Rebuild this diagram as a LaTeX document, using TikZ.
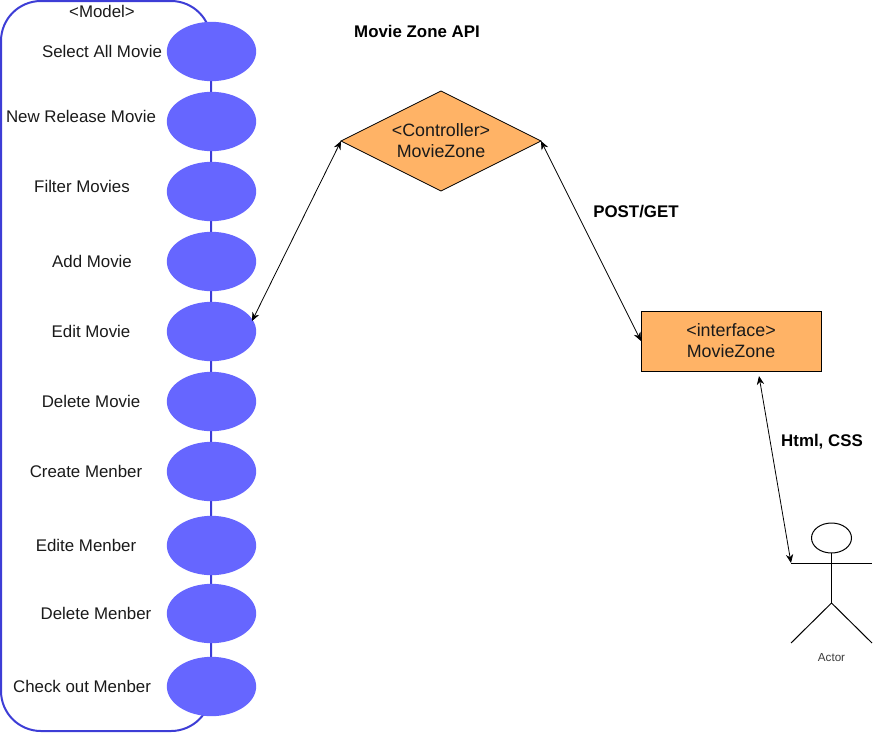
\documentclass[tikz,border=0pt]{standalone}
\usepackage{fontspec}
\setmainfont{Liberation Sans}
\usetikzlibrary{shapes.geometric,arrows.meta}
\definecolor{modelline}{HTML}{3D3DD6}
\definecolor{modelfill}{HTML}{6666FF}
\definecolor{boxfill}{HTML}{FFB366}
\definecolor{inktext}{HTML}{1A1A1A}
\tikzset{
  every node/.style={font=\fontsize{12.65}{15.8}\selectfont,text=inktext,inner sep=0pt,outer sep=0pt},
  modelbox/.style={draw=modelline,line width=1.5pt,rounded corners=30pt},
  opdot/.style={ellipse,fill=modelfill,minimum width=67pt,minimum height=44.5pt},
  oplabel/.style={anchor=center},
  ctrl/.style={diamond,draw=black,line width=0.6pt,fill=boxfill,aspect=2,minimum width=150pt,minimum height=75pt,align=center,font=\fontsize{13.4}{15.8}\selectfont},
  iface/.style={rectangle,draw=black,line width=0.75pt,fill=boxfill,minimum width=135pt,minimum height=45pt,align=center,font=\fontsize{13.4}{15.8}\selectfont},
  boldlabel/.style={font=\fontsize{12.65}{15.8}\selectfont\bfseries,text=black},
  link/.style={draw=black,line width=0.6pt,{Stealth[length=6.5pt,width=5.5pt]}-{Stealth[length=6.5pt,width=5.5pt]}},
  stick/.style={draw=black,line width=0.75pt}
}
\begin{document}
\begin{tikzpicture}[x=0.75pt,y=-0.75pt]
\useasboundingbox (0,0) rectangle (887,732);
\draw[modelbox] (1,1) rectangle (211,731);
\foreach \n/\y in {selectall/51.5,newrelease/121.5,filter/191.5,add/261.5,edit/331.5,delete/401.5,create/471.5,editm/545.5,deletem/613.5,checkout/686.5}
  \node[opdot] (\n) at (211.5,\y) {};
\node[oplabel] (modeltitle) at (102,11) {<Model>};
\node[oplabel] (l1) at (102,51) {Select All Movie};
\node[oplabel] (l2) at (81,116) {New Release Movie};
\node[oplabel] (l3) at (82,186) {Filter Movies};
\node[oplabel] (l4) at (92,261) {Add Movie};
\node[oplabel] (l5) at (91,331) {Edit Movie};
\node[oplabel] (l6) at (91,401) {Delete Movie};
\node[oplabel] (l7) at (86,471) {Create Menber};
\node[oplabel] (l8) at (86,545) {Edite Menber};
\node[oplabel] (l9) at (96,613) {Delete Menber};
\node[oplabel] (l10) at (82,686) {Check out Menber};
\node[boldlabel] (apititle) at (417,31) {Movie Zone API};
\node[ctrl] (controller) at (441,141) {<Controller>\\MovieZone};
\node[iface] (interface) at (731,341) {<interface>\\MovieZone};
\node[boldlabel] (postget) at (636,212) {POST/GET};
\node[boldlabel] (htmlcss) at (822,442) {Html, CSS};
% actor
\node[ellipse,draw=black,line width=0.75pt,minimum width=30pt,minimum height=22.5pt] (head) at (831.5,538) {};
\coordinate (armL) at (791,563);
\coordinate (armR) at (872,563);
\coordinate (hip) at (831.5,603);
\coordinate (footL) at (791,643);
\coordinate (footR) at (872,643);
\draw[stick] (head.south) -- (hip);
\draw[stick] (armL) -- (armR);
\draw[stick] (footL) -- (hip) -- (footR);
\node[font=\fontsize{8.75}{10}\selectfont,text=inktext!85] (actorlabel) at (831.5,658) {Actor};
% connectors
\coordinate (ifaceTip) at (759,376);
\draw[link] ([xshift=-1pt]edit.14) -- (controller.west);
\draw[link] (controller.east) -- (interface.west);
\draw[link] (ifaceTip) -- (armL);
\end{tikzpicture}
\end{document}
